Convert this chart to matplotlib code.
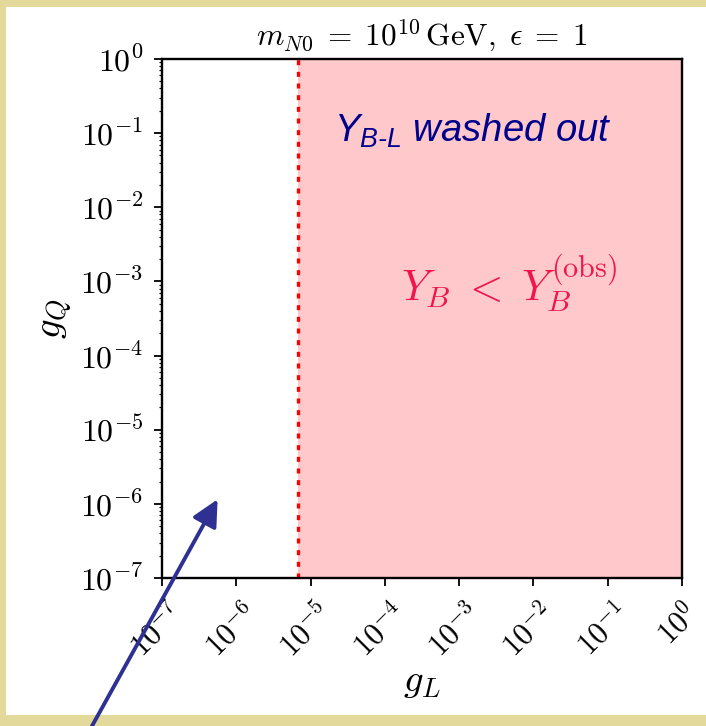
import numpy as np
import matplotlib
matplotlib.use('Agg')
import matplotlib.pyplot as plt
from matplotlib.patches import Rectangle
from matplotlib.ticker import FuncFormatter
from matplotlib.transforms import ScaledTranslation

plt.rcParams['mathtext.fontset'] = 'cm'
plt.rcParams['font.family'] = ['DejaVu Serif']
plt.rcParams['mathtext.it'] = 'Liberation Sans:italic'
plt.rcParams['mathtext.rm'] = 'Liberation Sans:italic'

# ─── Parameter space ───────────────────────────────────────────────────────
GL_RANGE = [1e-7, 1e0]
GQ_RANGE = [1e-7, 1e0]
GL_WASHOUT = 6.8e-6          # above this g_L the B-L asymmetry is washed out

# arrow target (point in the viable region)
ARROW_TIP = (5.6e-7, 1.15e-6)

BORDER = '#E3D99B'
PINK = '#FFC8CB'
RED = '#FF0000'
NAVY = '#00008B'
CRIMSON = '#F0164B'
ARROW = '#2E3192'


def pow10(v, pos):
    return r'$10^{%d}$' % round(np.log10(v))


fig = plt.figure(figsize=(7.06, 7.26), dpi=100)
fig.patch.set_facecolor(BORDER)
fig.add_artist(Rectangle((6 / 706, 11 / 726), 700 / 706, 708 / 726,
                         transform=fig.transFigure, facecolor='white',
                         edgecolor='none', zorder=-1))

ax = fig.add_axes([0.2295, 0.2039, 0.7365, 0.7149])
ax.set_xscale('log')
ax.set_yscale('log')
ax.set_xlim(GL_RANGE)
ax.set_ylim(GQ_RANGE)

# washed-out region
ax.axvspan(GL_WASHOUT, GL_RANGE[1], color=PINK, lw=0, zorder=0)
ax.axvline(GL_WASHOUT, color=RED, lw=2.4, ls=(0, (1.5, 2.0)), zorder=2)

ax.text(10 ** -4.69, 10 ** -0.97, r'$Y_{B\text{-}L}$ washed out',
        color=NAVY, fontsize=27.5, family='Liberation Sans', style='italic',
        math_fontfamily='custom', ha='left', va='center')
ax.text(10 ** -2.33, 10 ** -3.03, r'$Y_B\;<\;Y_B^{\rm (obs)}$',
        color=CRIMSON, fontsize=31, ha='center', va='center')

ax.set_title(r'$m_{N0}\;=\;10^{10}\,\mathrm{GeV},\;\epsilon\;=\;1$',
             fontsize=22.5, pad=10)
ax.set_xlabel(r'$g_L$', fontsize=28, labelpad=0)
ax.set_ylabel(r'$g_Q$', fontsize=28, labelpad=4)

for s in ax.spines.values():
    s.set_linewidth(1.7)
ax.tick_params(which='major', length=5.5, width=1.3, labelsize=23)
ax.tick_params(which='minor', length=2.5, width=0.9)
ax.tick_params(axis='y', which='major', pad=8)
ax.tick_params(axis='x', which='major', pad=9, labelsize=22)
ax.set_xticks(np.logspace(-7, 0, 8))
ax.set_yticks(np.logspace(-7, 0, 8))
ax.xaxis.set_major_formatter(FuncFormatter(pow10))
ax.yaxis.set_major_formatter(FuncFormatter(pow10))
# rotated x labels sit a touch left of their ticks
shift = ScaledTranslation(-4 / 100, 0, fig.dpi_scale_trans)
for lab in ax.get_xticklabels():
    lab.set_rotation(45)
    lab.set_transform(lab.get_transform() + shift)

ax.annotate('', xy=ARROW_TIP, xycoords='data',
            xytext=(88 / 706, -0.01), textcoords='figure fraction',
            arrowprops=dict(arrowstyle='-|>,head_length=1.6,head_width=0.8',
                            mutation_scale=10, color=ARROW, lw=2.8,
                            shrinkA=0, shrinkB=0),
            annotation_clip=False, zorder=10)

fig.savefig('out.png', dpi=100)
